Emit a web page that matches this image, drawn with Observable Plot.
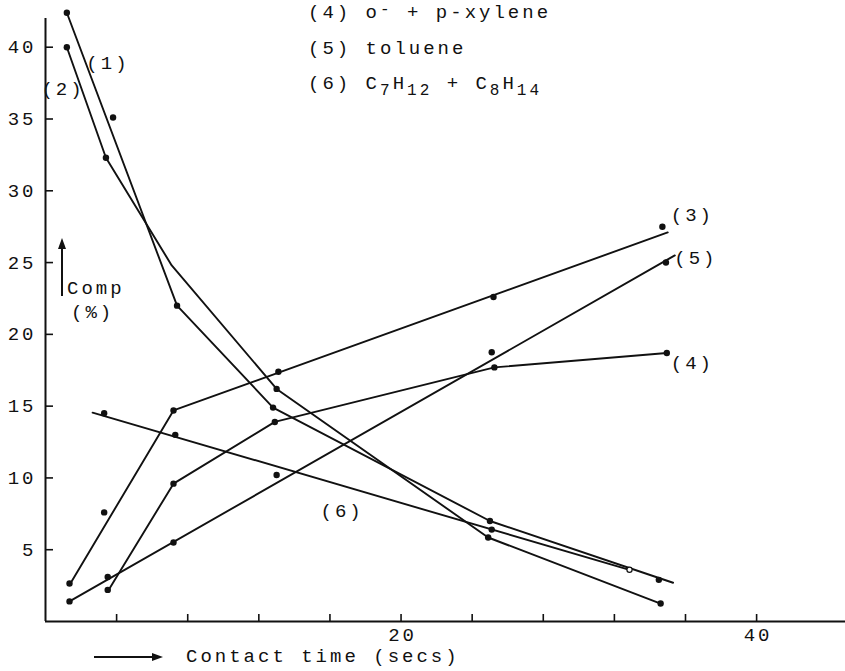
<!DOCTYPE html>
<html><head><meta charset="utf-8">
<script src="https://cdn.jsdelivr.net/npm/d3@7"></script>
<script src="https://cdn.jsdelivr.net/npm/@observablehq/plot@0.6"></script>
<style>
body{margin:0;background:#fff;}
#wrap{position:relative;width:845px;height:671px;font-family:"Liberation Mono",monospace;color:#111;}
#wrap svg text{letter-spacing:3px;}
.ann{position:absolute;font-size:19px;letter-spacing:3px;white-space:nowrap;line-height:19px;}
.ann sub{font-size:16px;vertical-align:-6px;line-height:0;}
.ann sup{font-size:16px;vertical-align:4px;line-height:0;}
.arr{position:absolute;overflow:visible;}
</style></head><body><div id="wrap"></div>
<script>
// Contact time (secs) and composition (%)
const s1Dots = [[1.2,42.4],[3.8,35.1],[7.4,22.0],[12.8,14.9],[25.0,7.0],[34.5,2.9]];
const s1Line = [[1.2,42.4],[7.4,22.0],[12.8,14.9],[25.0,7.0],[35.3,2.7]];
const s2Dots = [[1.2,40.0],[3.4,32.3],[13.0,16.2],[24.9,5.85],[34.6,1.25]];
const s2Line = [[1.2,40.0],[3.4,32.3],[7.1,24.8],[13.0,16.2],[24.9,5.85],[34.6,1.25]];
const s3Dots = [[1.35,2.65],[3.3,7.6],[7.2,14.7],[13.1,17.4],[25.2,22.6],[34.7,27.5]];
const s3Line = [[1.4,2.65],[7.2,14.7],[35.0,27.1]];
const s4Dots = [[3.5,2.2],[7.2,9.6],[12.9,13.9],[25.25,17.7],[34.95,18.7]];
const s4Line = [[3.55,2.2],[7.2,9.6],[12.9,13.9],[25.25,17.7],[34.95,18.7]];
const s5Dots = [[1.35,1.4],[3.5,3.1],[7.2,5.5],[13.0,10.2],[25.1,18.75],[34.9,25.0]];
const s5Line = [[1.35,1.4],[35.4,25.5]];
const s6Dots = [[3.3,14.5],[7.3,13.0],[25.1,6.4]];
const s6Open = [[32.85,3.6]];
const s6Line = [[2.65,14.55],[32.85,3.6]];

const labelText = ["(1)","(2)","(3)","(4)","(5)","(6)"];
const labelT = [3.43, 0.9, 36.3, 36.3, 36.5, 16.6];
const labelV = [38.9, 37.1, 28.3, 18.0, 25.35, 7.7];

const xTicks = [4,8,12,16,20,24,28,32,36,40];
const xTickLabels = [20,40];
const yTicks = [5,10,15,20,25,30,35,40];

const toPts = a => a.map(([t,v]) => ({t, v}));
const labels = labelText.map((label,i) => ({label, t: labelT[i], v: labelV[i]}));
const lines = [s1Line,s2Line,s3Line,s4Line,s5Line,s6Line];
const dots = [s1Dots,s2Dots,s3Dots,s4Dots,s5Dots,s6Dots];

const W = 845, H = 671, mL = 45, mR = 0, mT = 18, mB = 50;
const plotW = W - mL - mR, plotH = H - mT - mB;
const ink = "#111";

const chart = Plot.plot({
  width: W, height: H,
  marginLeft: mL, marginRight: mR, marginTop: mT, marginBottom: mB,
  x: {domain: [0, 45]},
  y: {domain: [0, 42]},
  style: {fontFamily: "Liberation Mono, monospace", fontSize: "19px", color: ink, background: "white", overflow: "visible"},
  marks: [
    Plot.ruleY([0], {stroke: ink, strokeWidth: 2}),
    Plot.ruleX([0], {y1: 0, y2: 42, stroke: ink, strokeWidth: 2}),
    Plot.tickX(xTicks, {x: d => d, insetTop: plotH - 7, stroke: ink, strokeWidth: 1.6}),
    Plot.tickY(yTicks, {y: d => d, insetRight: plotW - 8, stroke: ink, strokeWidth: 1.6}),
    Plot.axisX(xTickLabels, {tickSize: 0, tickPadding: 6, fontSize: 19, label: null, dx: 1.5}),
    Plot.axisY(yTicks, {tickSize: 0, tickPadding: 9, fontSize: 19, label: null}),
    ...lines.map(l => Plot.line(toPts(l), {x: "t", y: "v", stroke: ink, strokeWidth: 1.9, strokeLinejoin: "round"})),
    ...dots.map(d => Plot.dot(toPts(d), {x: "t", y: "v", r: 3.2, fill: ink, stroke: "none"})),
    Plot.dot(toPts(s6Open), {x: "t", y: "v", r: 2.6, fill: "white", stroke: ink, strokeWidth: 1.2}),
    Plot.text(labels, {x: "t", y: "v", text: "label", fontSize: 19, fill: ink, dx: 1.5})
  ]
});

const wrap = document.getElementById("wrap");
wrap.appendChild(chart);
wrap.insertAdjacentHTML("beforeend", `
<div class="ann" style="left:308px;top:4px">(4) o<sup>-</sup> + p-xylene</div>
<div class="ann" style="left:308px;top:40px">(5) toluene</div>
<div class="ann" style="left:308px;top:75px">(6) C<sub>7</sub>H<sub>12</sub> + C<sub>8</sub>H<sub>14</sub></div>
<svg class="arr" style="left:56px;top:238px" width="12" height="60"><line x1="6" y1="8" x2="6" y2="58" stroke="${ink}" stroke-width="2"/><path d="M6,0 L2,11 L10,11Z" fill="${ink}"/></svg>
<div class="ann" style="left:67px;top:280px">Comp</div>
<div class="ann" style="left:71px;top:304px">(%)</div>
<svg class="arr" style="left:94px;top:651px" width="70" height="12"><line x1="0" y1="6" x2="60" y2="6" stroke="${ink}" stroke-width="2"/><path d="M69,6 L58,2 L58,10Z" fill="${ink}"/></svg>
<div class="ann" style="left:186px;top:648px">Contact time (secs)</div>
`);
</script>
</body></html>
